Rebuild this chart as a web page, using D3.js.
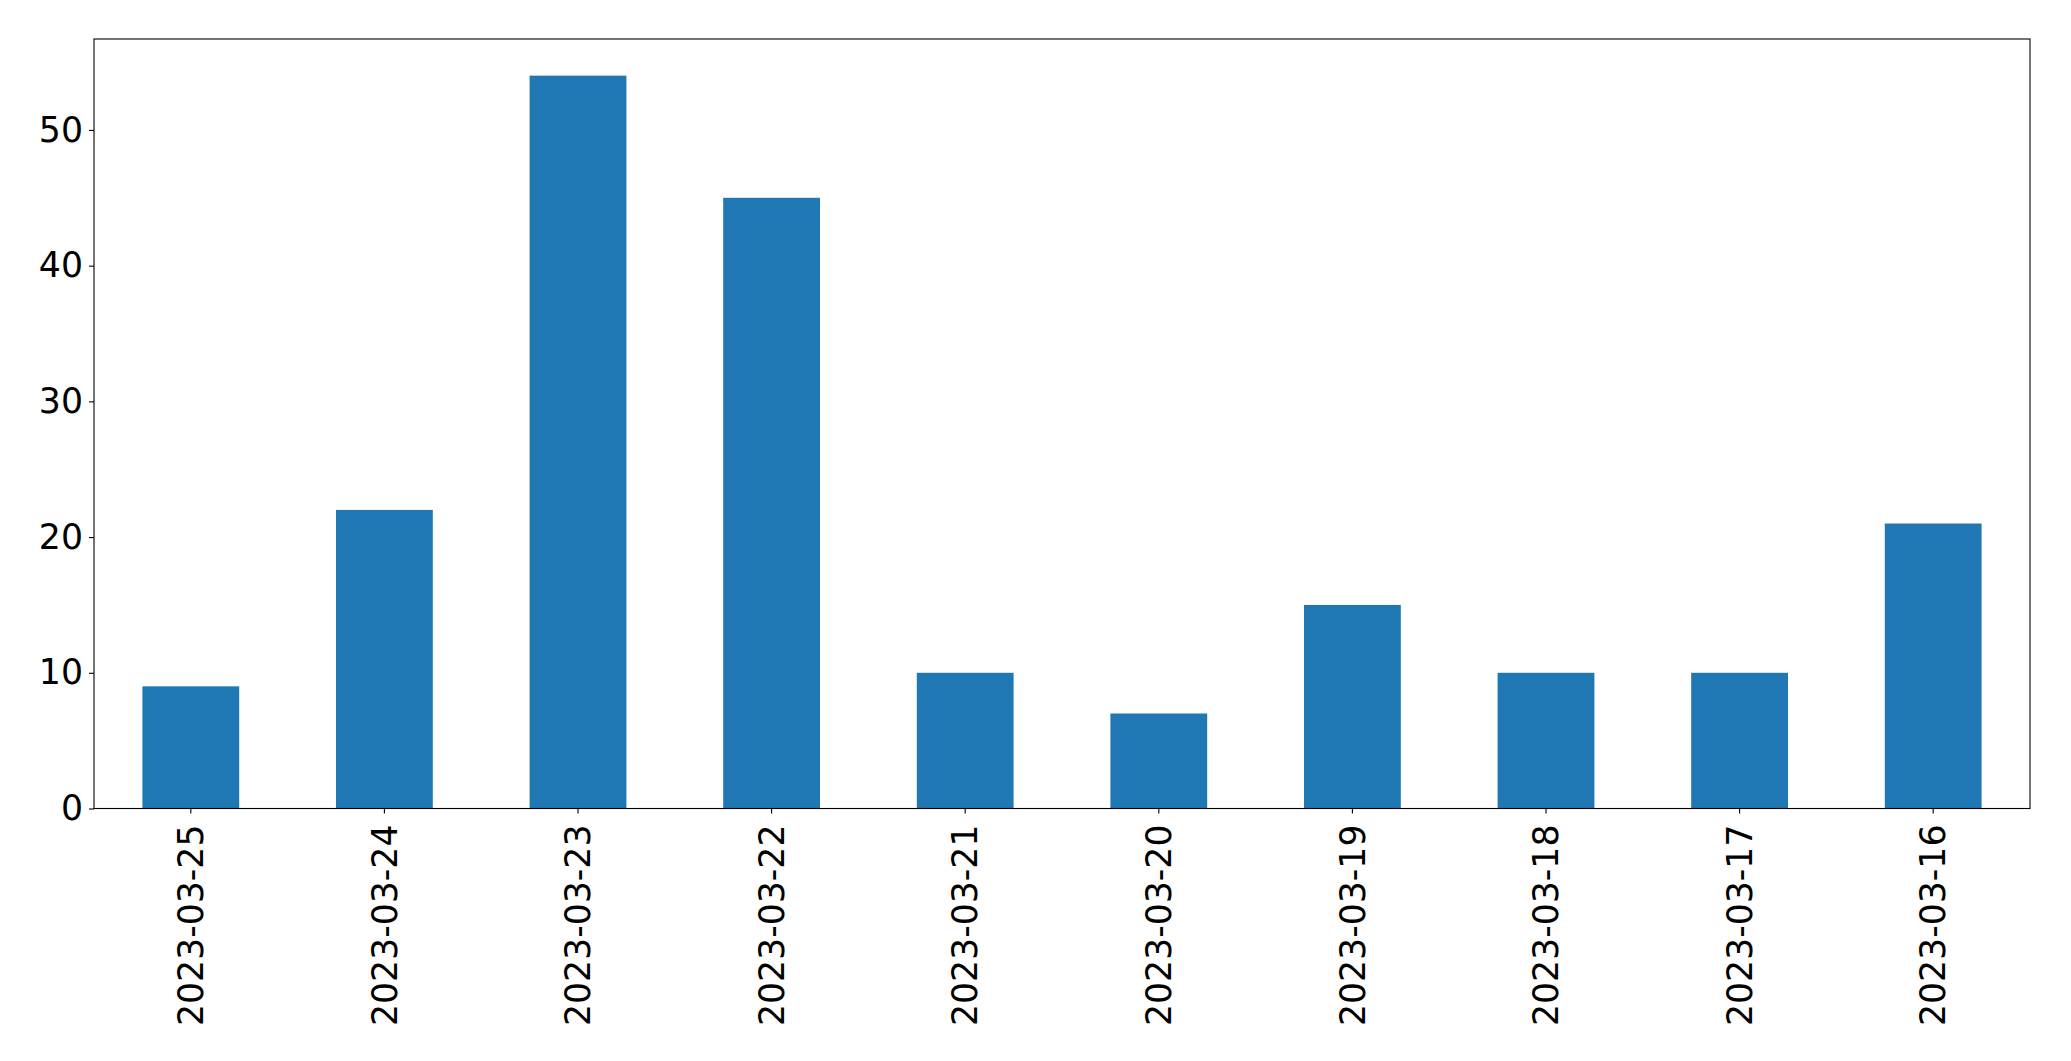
<script src="https://d3js.org/d3.v7.min.js"></script>
<style>
  body { margin: 0; background: white; }
  text { font-family: "DejaVu Sans", sans-serif; }
</style>
<svg id="main_canvas" width=2071 height=1061></svg>
<script>
  "use strict";
  const WIDTH = 2071;
  const HEIGHT = 1061;

  // data
  const dates = ["2023-03-25", "2023-03-24", "2023-03-23", "2023-03-22", "2023-03-21",
                 "2023-03-20", "2023-03-19", "2023-03-18", "2023-03-17", "2023-03-16"];
  const counts = [9, 22, 54, 45, 10, 7, 15, 10, 10, 21];
  const yTicks = [0, 10, 20, 30, 40, 50];

  const LEFT = 94, RIGHT = 2030, TOP = 39, BOTTOM = 808.5;
  const FONT_SIZE = 34.7;
  const BAR_COLOR = "#1f77b4";

  const svg = d3.select("#main_canvas");

  const x = d3.scaleBand()
    .domain(dates)
    .range([LEFT, RIGHT])
    .paddingInner(0.5)
    .paddingOuter(0.25);

  const y = d3.scaleLinear()
    .domain([0, d3.max(counts) * 1.05])
    .range([BOTTOM, TOP]);

  // Bars
  svg.selectAll("rect.bar")
    .data(dates)
    .enter()
    .append("rect")
    .attr("class", "bar")
    .attr("x", d => x(d))
    .attr("y", (d, i) => y(counts[i]))
    .attr("width", x.bandwidth())
    .attr("height", (d, i) => y(0) - y(counts[i]))
    .attr("fill", BAR_COLOR);

  // Y axis
  const yAxis = svg.append("g")
    .attr("transform", `translate(${LEFT},0)`)
    .call(d3.axisLeft(y).tickValues(yTicks).tickSize(5).tickPadding(6));
  yAxis.select(".domain").remove();
  yAxis.selectAll("text")
    .attr("font-size", FONT_SIZE)
    .attr("font-family", "DejaVu Sans")
    .attr("fill", "black");
  yAxis.selectAll("line").attr("stroke", "black").attr("stroke-width", 1.1);

  // X axis
  const xAxis = svg.append("g")
    .attr("transform", `translate(0,${BOTTOM})`)
    .call(d3.axisBottom(x).tickSize(5).tickPadding(5));
  xAxis.select(".domain").remove();
  xAxis.selectAll("line").attr("stroke", "black").attr("stroke-width", 1.1);
  xAxis.selectAll("text")
    .attr("font-size", FONT_SIZE)
    .attr("font-family", "DejaVu Sans")
    .attr("fill", "black")
    .attr("text-anchor", "end")
    .attr("dy", "0.35em")
    .attr("transform", "translate(0,16) rotate(-90)")
    .attr("x", 0)
    .attr("y", 0);

  // Frame
  svg.append("rect")
    .attr("x", LEFT)
    .attr("y", TOP)
    .attr("width", RIGHT - LEFT)
    .attr("height", BOTTOM - TOP)
    .attr("fill", "none")
    .attr("stroke", "black")
    .attr("stroke-width", 1.1);
</script>
